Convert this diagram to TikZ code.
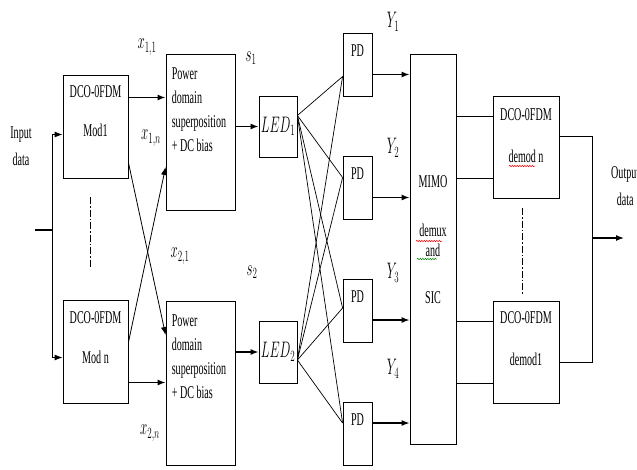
\documentclass[tikz,border=0pt]{standalone}
\usepackage{fontspec}
\setmainfont[FakeStretch=0.56]{Liberation Serif}
\usepackage{graphicx}
\usetikzlibrary{arrows.meta, positioning, calc, decorations.pathmorphing}
\newcommand{\mlab}[1]{\scalebox{0.75}[1.3]{$#1$}}

\begin{document}
\begin{tikzpicture}[x=1pt,y=-1pt,
  font=\fontsize{18}{24}\selectfont,
  >={Latex[length=8pt,width=6pt]},
  blk/.style={draw,line width=0.8pt,inner sep=0pt},
  flow/.style={->,line width=1.3pt},
  wire/.style={line width=1pt},
  ray/.style={line width=0.7pt},
  dots/.style={line width=0.7pt,dash pattern=on 7pt off 2pt on 1.5pt off 2pt},
  squig/.style={decorate,decoration={snake,amplitude=0.7pt,segment length=2.5pt},line width=0.5pt}]
\useasboundingbox (0,0) rectangle (637,469);

\node[blk,minimum width=65pt,minimum height=103pt] (mod1) at (95.5,126.5) {};
\node[blk,minimum width=65pt,minimum height=103pt] (modn) at (95.5,351.5) {};
\node[blk,minimum width=69pt,minimum height=156pt] (pow1) at (200.5,132) {};
\node[blk,minimum width=69pt,minimum height=164pt] (pow2) at (200.5,383) {};
\node[blk,minimum width=38pt,minimum height=61pt] (led1) at (278,126.5) {\mlab{LED_1}};
\node[blk,minimum width=38pt,minimum height=62pt] (led2) at (278,352) {\mlab{LED_2}};
\foreach \n/\y in {1/64.5,2/187.5,3/311,4/434} {
  \node[blk,minimum width=29pt,minimum height=63pt] (pd\n) at (357.5,\y) {};
  \node (pdl\n) at ([yshift=-18pt]pd\n.north) {PD};
}
\node[blk,minimum width=46pt,minimum height=390pt] (mimo) at (433,249) {};
\node[blk,minimum width=66pt,minimum height=102pt] (dmn) at (526,147) {};
\node[blk,minimum width=66pt,minimum height=102pt] (dm1) at (526,352) {};

\node (mod1t) at ([yshift=-17pt]mod1.north) {DCO-0FDM};
\node (mod1b) at ([yshift=-56pt]mod1.north) {Mod1};
\node (modnt) at ([yshift=-18pt]modn.north) {DCO-0FDM};
\node (modnb) at ([yshift=-58pt]modn.north) {Mod n};
\foreach \p in {pow1,pow2}
  \node[anchor=north west,align=left,inner sep=0pt] (\p t) at ([xshift=6pt,yshift=-14pt]\p.north west)
    {Power\\domain\\superposition\\+ DC bias};
\node[align=center,inner sep=0pt] (mimot) at (433,240) {MIMO\\[25pt]demux\\[-4pt]and\\[23pt]SIC};
\node (dmnt) at ([yshift=-19pt]dmn.north) {DCO-0FDM};
\node (dmnb) at ([yshift=-61pt]dmn.north) {demod n};
\node (dm1t) at ([yshift=-17pt]dm1.north) {DCO-0FDM};
\node (dm1b) at ([yshift=-59pt]dm1.north) {demod1};

\node[align=center,inner sep=0pt] (inp) at (21,146) {Input\\[3pt]data};
\node[align=center,inner sep=0pt,anchor=west] (outp) at (611,186) {Output\\[3pt]data};
\node (x11) at (147,47) {\mlab{x_{1,1}}};
\node (x1n) at (151,138) {\mlab{x_{1,n}}};
\node (x21) at (180,256) {\mlab{x_{2,1}}};
\node (x2n) at (150,433) {\mlab{x_{2,n}}};
\node (s1) at (251,58) {\mlab{s_1}};
\node (s2) at (252,272) {\mlab{s_2}};
\foreach \n/\y in {1/22,2/148,3/273,4/369}
  \node (y\n) at (393,\y) {\mlab{Y_\n}};

\coordinate (src) at (35,230);
\coordinate (fork) at (52,230);
\draw[line width=1.3pt] (src) -- (fork);
\draw[flow,line width=1pt] (fork) |- ([yshift=-8pt]mod1.west);
\draw[flow,line width=1pt] (fork) |- ([yshift=-6pt]modn.west);

\coordinate (m1o) at ([yshift=29pt]mod1.east);
\draw[flow] (m1o) -- (m1o -| pow1.west);
\coordinate (mno) at ([yshift=-31pt]modn.east);
\draw[flow] (mno) -- (mno -| pow2.west);
\draw[flow,line width=0.8pt] ([yshift=-36pt]mod1.east) -- ([yshift=48pt]pow2.west);
\draw[flow,line width=0.8pt] ([yshift=9pt]modn.east) -- ([yshift=-35pt]pow1.west);

\draw[flow] (pow1.east |- led1.west) -- (led1.west);
\draw[flow] (pow2.east |- led2.west) -- (led2.west);

\foreach \l/\s in {led1/11pt,led2/-8pt}
  \foreach \p/\t in {pd1/-12pt,pd2/10pt,pd3/3pt,pd4/11pt}
    \draw[ray] ([yshift=\s]\l.east) -- ([yshift=\t]\p.west);

\foreach \n/\t in {1/-10pt,2/-10pt,3/-9pt,4/11pt} {
  \coordinate (pdo\n) at ([yshift=\t]pd\n.east);
  \draw[flow] (pdo\n) -- (pdo\n -| mimo.west);
}

\foreach \d in {dmn,dm1}
  \foreach \t in {31pt,-31pt} {
    \coordinate (dmi) at ([yshift=\t]\d.west);
    \draw[wire] (dmi) -- (dmi -| mimo.east);
  }

\coordinate (join) at (592,238);
\coordinate (sink) at (624,238);
\draw[wire] ([yshift=11pt]dmn.east) -| (join);
\draw[wire] ([yshift=-10pt]dm1.east) -| (join);
\draw[flow] (join) -- (sink);

\coordinate (d1a) at (90,197);
\coordinate (d1b) at (90,268);
\draw[dots] (d1a) -- (d1b);
\coordinate (d2a) at (522,208);
\coordinate (d2b) at (522,295);
\draw[dots] (d2a) -- (d2b);

\draw[squig,red] (416,241) -- (442,241);
\draw[squig,green!50!black] (417,259) -- (437,259);
\draw[squig,red] (509,166) -- (535,166);
\end{tikzpicture}
\end{document}
